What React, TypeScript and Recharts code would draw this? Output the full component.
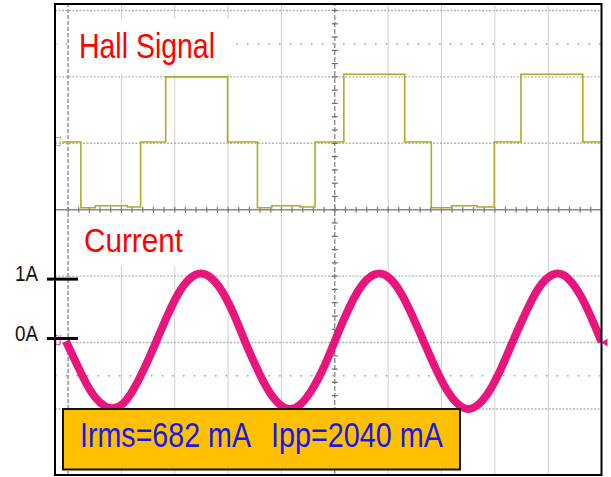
import React from "react";
import { ComposedChart, Line, XAxis, YAxis, ReferenceLine, ReferenceDot } from "recharts";

// Time is in screen divisions (0..10). The Hall trace is in divisions about its C1 ground,
// and the phase current is in amperes (1 A/div, drawn three divisions below the Hall ground).
const hallTimes = [-0.11, 0.24, 0.51, 1.11, 1.36, 1.83, 2.99, 3.55, 3.82, 4.35, 4.63, 5.17, 6.31, 6.81, 7.19, 7.67, 7.99, 8.49, 9.65, 10.0];
const hallLevels = [0.02, -0.97, -0.94, -0.96, 0.02, 1.0, 0.02, -0.97, -0.94, -0.96, 0.02, 1.04, 0.02, -0.97, -0.94, -0.96, 0.02, 1.04, 0.02, 0.02];

const currentTimes = [
  -0.04, 0.19, 0.4, 0.61, 0.82, 1.03, 1.23, 1.44, 1.65, 1.86, 2.07, 2.28, 2.49, 2.7, 2.91, 3.12,
  3.32, 3.53, 3.74, 3.95, 4.16, 4.37, 4.58, 4.79, 5.0, 5.2, 5.41, 5.62, 5.83, 6.04, 6.25, 6.46,
  6.67, 6.88, 7.09, 7.3, 7.5, 7.71, 7.92, 8.13, 8.34, 8.55, 8.76, 8.97, 9.18, 9.38, 9.59, 9.8, 10.0,
];
const currentAmps = [
  0.02, -0.37, -0.7, -0.91, -0.99, -0.92, -0.7, -0.37, 0.01, 0.4, 0.74, 0.96, 1.04, 0.96, 0.74, 0.4,
  0.01, -0.37, -0.7, -0.92, -1.0, -0.92, -0.7, -0.38, 0.02, 0.4, 0.74, 0.96, 1.04, 0.96, 0.73, 0.39,
  0.01, -0.37, -0.7, -0.92, -1.0, -0.92, -0.7, -0.37, 0.02, 0.4, 0.74, 0.96, 1.04, 0.96, 0.73, 0.39, 0.01,
];

const currentTicks = [0, 1];
const currentTickLabels: Record<number, string> = { 0: "0A", 1: "1A" };

const IRMS_MA = 682;
const IPP_MA = 2040;

const hallData = hallTimes.map((t, i) => ({ t, v: hallLevels[i] }));
const currentData = currentTimes.map((t, i) => ({ t, i: currentAmps[i] }));

// Screen geometry in divisions
const X_DOMAIN: [number, number] = [-0.245, 10];
const HALL_DOMAIN: [number, number] = [-4.995, 2.098];
const CURRENT_OFFSET = 3;
const CUR_DOMAIN: [number, number] = [HALL_DOMAIN[0] + CURRENT_OFFSET, HALL_DOMAIN[1] + CURRENT_OFFSET];

const W = 611;
const H = 477;
const NARROW = "'Liberation Sans Narrow', 'Arial Narrow', 'Liberation Sans', Arial, sans-serif";

const HALL_COLOR = "#aeab2a";
const CURRENT_COLOR = "#e8157d";
const GRID_LIGHT = "#cfcfcf";
const GRID_DASH = "#b4b4b4";
const GRID_DARK = "#7a7a7a";

const timeDivs: number[] = [];
for (let d = 0; d <= 10; d++) timeDivs.push(d);
const hallDivs: number[] = [];
for (let d = 2; d >= -4; d--) hallDivs.push(d);

const minorTimes: number[] = [];
for (let k = 0; k <= 50; k++) minorTimes.push(k / 5);
const minorLevels: number[] = [];
for (let k = -25; k <= 10; k++) minorLevels.push(k / 5);

// Small nudges so the hand-placed ampere markers sit where they were drawn
const tickNudge: Record<number, number> = { 0: -4, 1: 3 };

const CurrentTick = (props: any) => {
  const { x, y, payload } = props;
  const v = payload.value as number;
  const ly = y + (tickNudge[v] ?? 0);
  return (
    <g>
      <line x1={x - 8} x2={x + 23} y1={ly} y2={ly} stroke="#000" strokeWidth={3} />
      <text
        x={x - 17}
        y={ly + 2}
        textAnchor="end"
        fontSize={22}
        fontFamily={NARROW}
        fill="#111"
        textLength={23}
        lengthAdjust="spacingAndGlyphs"
      >
        {currentTickLabels[v]}
      </text>
    </g>
  );
};

const ChannelTag = (color: string, name: string) => (props: any) => {
  const { cx, cy } = props;
  return (
    <g>
      <text
        x={cx}
        y={cy}
        fontSize={9}
        fontFamily={NARROW}
        fill={color}
        transform={`rotate(-90 ${cx} ${cy})`}
        textAnchor="start"
      >
        {name}
      </text>
    </g>
  );
};

const EndMarker = (props: any) => {
  const { cx, cy } = props;
  return <polygon points={`${cx},${cy} ${cx + 6},${cy - 4} ${cx + 6},${cy + 4}`} fill={CURRENT_COLOR} />;
};

export default function App() {
  return (
    <div style={{ position: "relative", width: W, height: H, background: "#fff" }}>
      <style>{"body{margin:0;background:#fff}"}</style>
      <ComposedChart width={W} height={H} margin={{ top: 4, right: 9.5, bottom: 2, left: 0 }}>
        <XAxis type="number" dataKey="t" domain={X_DOMAIN} hide allowDataOverflow />
        <YAxis yAxisId="hall" type="number" domain={HALL_DOMAIN} hide allowDataOverflow />
        <YAxis
          yAxisId="cur"
          orientation="left"
          type="number"
          width={55}
          domain={CUR_DOMAIN}
          ticks={currentTicks}
          interval={0}
          tick={CurrentTick}
          axisLine={false}
          tickLine={false}
          tickSize={0}
          tickMargin={0}
          allowDataOverflow
        />

        {/* graticule */}
        {timeDivs
          .filter((d) => d !== 0 && d !== 5 && d !== 10)
          .map((d) => (
            <ReferenceLine key={`v${d}`} yAxisId="hall" x={d} stroke={GRID_LIGHT} strokeWidth={1} />
          ))}
        {hallDivs
          .filter((d) => d !== -1)
          .map((d) => (
            <ReferenceLine key={`h${d}`} yAxisId="hall" y={d} stroke={GRID_DASH} strokeWidth={1.4} strokeDasharray="2 1.5" />
          ))}
        <ReferenceLine yAxisId="hall" y={1.5} stroke="#9a9a9a" strokeWidth={1.5} strokeDasharray="1.5 9.17" />
        <ReferenceLine yAxisId="hall" y={-3.5} stroke="#9a9a9a" strokeWidth={1.5} strokeDasharray="1.5 9.17" />
        <ReferenceLine yAxisId="hall" x={0} stroke={GRID_DARK} strokeWidth={1.2} strokeDasharray="4 2" />
        <ReferenceLine yAxisId="hall" x={5} stroke={GRID_DARK} strokeWidth={1.2} strokeDasharray="5 2" />
        <ReferenceLine yAxisId="hall" y={-1} stroke="#8a8a8a" strokeWidth={1.6} />
        {minorTimes.map((t) => (
          <ReferenceLine
            key={`mt${t}`}
            yAxisId="hall"
            segment={[{ x: t, y: -1.045 }, { x: t, y: -0.955 }]}
            stroke="#7a7a7a"
            strokeWidth={1.2}
          />
        ))}
        {minorLevels.map((v) => (
          <ReferenceLine
            key={`ml${v}`}
            yAxisId="hall"
            segment={[{ x: 4.944, y: v }, { x: 5.056, y: v }]}
            stroke="#6a6a6a"
            strokeWidth={1.2}
          />
        ))}

        <Line
          yAxisId="hall"
          data={hallData}
          dataKey="v"
          type="stepAfter"
          stroke={HALL_COLOR}
          strokeWidth={1.6}
          dot={false}
          isAnimationActive={false}
        />
        <Line
          yAxisId="cur"
          data={currentData}
          dataKey="i"
          type="natural"
          stroke={CURRENT_COLOR}
          strokeWidth={8}
          strokeLinejoin="round"
          dot={false}
          isAnimationActive={false}
        />
        <ReferenceDot yAxisId="hall" x={-0.13} y={-0.05} r={0} ifOverflow="visible" shape={ChannelTag(HALL_COLOR, "C1")} />
        <ReferenceDot yAxisId="cur" x={-0.13} y={-0.05} r={0} ifOverflow="visible" shape={ChannelTag(CURRENT_COLOR, "C2")} />
        <ReferenceDot yAxisId="cur" x={10} y={0} r={0} ifOverflow="visible" shape={EndMarker} />
      </ComposedChart>

      <svg width={W} height={H} style={{ position: "absolute", left: 0, top: 0, pointerEvents: "none" }}>
        <rect x={55} y={4} width={546.5} height={471} fill="none" stroke="#000" strokeWidth={2} />

        <rect x={69} y={19} width={167} height={55} fill="#fff" />
        <text x={79} y={58} fontSize={35} fontFamily={NARROW} fill="#ff0000" textLength={136} lengthAdjust="spacingAndGlyphs">
          Hall Signal
        </text>

        <rect x={70} y={213} width={130} height={53} fill="#fff" />
        <text x={84} y={252} fontSize={34} fontFamily={NARROW} fill="#ff0000" textLength={99} lengthAdjust="spacingAndGlyphs">
          Current
        </text>

        <rect x={63} y={409} width={397} height={60.5} fill="#ffc000" stroke="#111" strokeWidth={2} />
        <text x={80} y={447} fontSize={35} fontFamily={NARROW} fill="#1818ee" textLength={171} lengthAdjust="spacingAndGlyphs">
          {`Irms=${IRMS_MA} mA`}
        </text>
        <text x={271} y={447} fontSize={35} fontFamily={NARROW} fill="#1818ee" textLength={172} lengthAdjust="spacingAndGlyphs">
          {`Ipp=${IPP_MA} mA`}
        </text>
      </svg>
    </div>
  );
}
